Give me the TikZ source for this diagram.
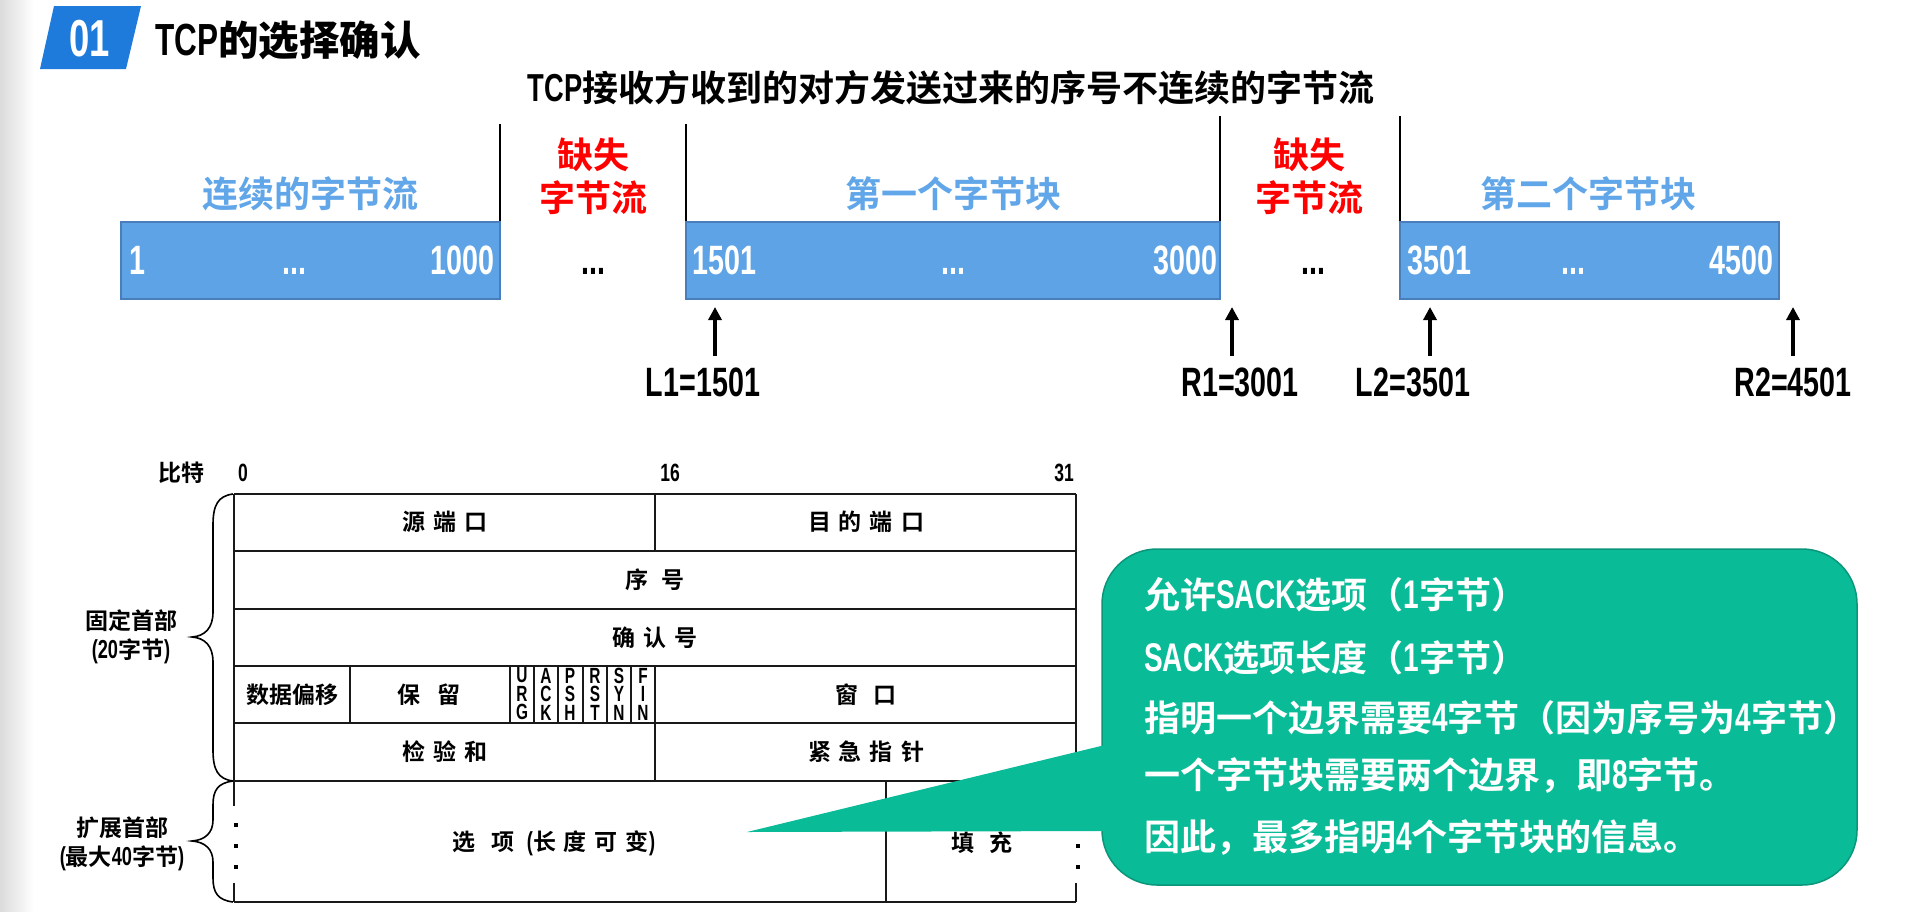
\documentclass[tikz,border=0pt]{standalone}
\usepackage{fontspec}
\usetikzlibrary{arrows.meta}
\newfontfamily\cjk{Noto Sans CJK SC}[UprightFont=* Bold]
\newfontfamily\cjkheavy{Noto Sans CJK SC}[UprightFont=* Black]
\newfontfamily\nar{Liberation Sans}[UprightFont=* Bold, FakeStretch=0.7]
\newcommand\fsz[1]{\fontsize{#1}{#1}\selectfont}
\newcommand\kgap[1]{\hspace{#1pt}}
\definecolor{badgeBlue}{RGB}{31,123,219}
\definecolor{barBlue}{RGB}{93,163,230}
\definecolor{barEdge}{RGB}{74,126,187}
\definecolor{lblBlue}{RGB}{96,166,232}
\definecolor{noteFill}{RGB}{10,187,152}
\definecolor{noteEdge}{RGB}{11,150,122}
\tikzset{
  seqbar/.style={draw=barEdge, fill=barBlue, line width=2pt},
  guide/.style={draw=black, line width=1.6pt},
  num/.style={font=\nar\fsz{41}, text=white, inner sep=0pt},
  blk/.style={font=\cjk\fsz{36}, text=lblBlue, inner sep=0pt},
  lost/.style={font=\cjk\fontsize{36}{43}\selectfont, text=red, align=center, inner sep=0pt},
  ptr/.style={-{Triangle[width=13pt,length=13pt]}, line width=3.5pt},
  ptrlbl/.style={font=\nar\fsz{41}, inner sep=0pt},
  tline/.style={line width=1.8pt, draw=black!90},
  hdrtxt/.style={font=\cjk\fsz{23}, inner sep=0pt},
  bitnum/.style={font=\nar\fsz{25}, inner sep=0pt},
  flagcol/.style={font=\nar\fontsize{22}{18.5}\selectfont, align=center, inner sep=0pt},
  side/.style={font=\cjk\fontsize{23}{29}\selectfont, align=center, inner sep=0pt},
  say/.style={font=\cjk\fsz{36}, text=white, anchor=west, inner sep=0pt},
}
\begin{document}
\begin{tikzpicture}[x=1pt,y=-1pt]
\useasboundingbox (0,0) rectangle (1913,911);
\fill[white] (0,0) rectangle (1913,911);
\shade[left color=black!14, right color=white] (0,0) rectangle (34,911);

% ---- heading ----
\fill[badgeBlue] (54,6) -- (141,6) -- (126,69) -- (40,69) -- cycle;
\node[font=\nar\fsz{52}, text=white, inner sep=0pt, anchor=base] (secnum) at (90,56) {01};
\node[font=\cjkheavy\fsz{40.5}, inner sep=0pt, anchor=west] (title) at (155,40) {{\nar\fsz{45}TCP}的选择确认};
\node[font=\cjk\fsz{36}, inner sep=0pt] (subtitle) at (951,88) {{\nar\fsz{39}TCP}接收方收到的对方发送过来的序号不连续的字节流};

% ---- byte stream ----
\draw[guide] (500,124) -- (500,222);
\draw[guide] (686,124) -- (686,222);
\draw[guide] (1220,116) -- (1220,222);
\draw[guide] (1400,116) -- (1400,222);
\draw[seqbar] (121,222) rectangle (500,299);
\draw[seqbar] (686,222) rectangle (1220,299);
\draw[seqbar] (1400,222) rectangle (1779,299);

\node[blk] (lblA) at (310,194) {连续的字节流};
\node[blk] (lblB) at (953,194) {第一个字节块};
\node[blk] (lblC) at (1588,194) {第二个字节块};
\node[lost] (gapA) at (593,176) {缺失\\字节流};
\node[lost] (gapB) at (1309,176) {缺失\\字节流};

\node[num, anchor=base west] (a1) at (129,274) {1};
\node[num, anchor=base] (a2) at (294,274) {...};
\node[num, anchor=base east] (a3) at (495,274) {1000};
\node[num, anchor=base, text=black] (g1) at (593,274) {...};
\node[num, anchor=base west] (b1) at (692,274) {1501};
\node[num, anchor=base] (b2) at (953,274) {...};
\node[num, anchor=base east] (b3) at (1218,274) {3000};
\node[num, anchor=base, text=black] (g2) at (1313,274) {...};
\node[num, anchor=base west] (c1) at (1407,274) {3501};
\node[num, anchor=base] (c2) at (1573,274) {...};
\node[num, anchor=base east] (c3) at (1774,274) {4500};

\coordinate (l1tip) at (715,307);  \coordinate (l1foot) at (715,356);
\coordinate (r1tip) at (1232,307); \coordinate (r1foot) at (1232,356);
\coordinate (l2tip) at (1430,307); \coordinate (l2foot) at (1430,356);
\coordinate (r2tip) at (1793,307); \coordinate (r2foot) at (1793,356);
\draw[ptr] (l1foot) -- (l1tip);
\draw[ptr] (r1foot) -- (r1tip);
\draw[ptr] (l2foot) -- (l2tip);
\draw[ptr] (r2foot) -- (r2tip);
\node[ptrlbl] (l1) at (703,382) {L1=1501};
\node[ptrlbl] (r1) at (1240,382) {R1=3001};
\node[ptrlbl] (l2) at (1413,382) {L2=3501};
\node[ptrlbl] (r2) at (1793,382) {R2=4501};

% ---- TCP header ----
\node[hdrtxt] (bits) at (181,473) {比特};
\node[bitnum] (b0) at (243,473) {0};
\node[bitnum] (b16) at (670,473) {16};
\node[bitnum] (b31) at (1064,473) {31};

\draw[tline] (234,494) -- (1076,494);
\foreach \yy in {551,609,666,723,781} \draw[tline] (234,\yy) -- (1076,\yy);
\draw[tline] (234,902) -- (1076,902);
\draw[tline] (234,494) -- (234,806) (234,883) -- (234,902);
\draw[tline] (1076,494) -- (1076,806) (1076,883) -- (1076,902);
\foreach \yy in {825,846,867} {
  \fill (234,\yy-2) rectangle ++(4,4);
  \fill (1076,\yy-2) rectangle ++(4,4);
}
\draw[tline] (655,494) -- (655,551);
\draw[tline] (655,666) -- (655,781);
\draw[tline] (350,666) -- (350,723);
\foreach \xx in {510,534,558,583,607,631} \draw[tline, line width=1.3pt] (\xx,666) -- (\xx,723);
\draw[tline] (886,781) -- (886,902);

\node[hdrtxt] (srcport) at (445,522) {源\kgap{8}端\kgap{8}口};
\node[hdrtxt] (dstport) at (866,522) {目\kgap{8}的\kgap{8}端\kgap{8}口};
\node[hdrtxt] (seqno) at (655,580) {序\kgap{14}号};
\node[hdrtxt] (ackno) at (655,638) {确\kgap{8}认\kgap{8}号};
\node[hdrtxt] (offset) at (292,695) {数据偏移};
\node[hdrtxt] (rsvd) at (429,695) {保\kgap{18}留};
\node[flagcol] (fu) at (522,694) {U\\R\\G};
\node[flagcol] (fa) at (546,694) {A\\C\\K};
\node[flagcol] (fp) at (570,694) {P\\S\\H};
\node[flagcol] (fr) at (595,694) {R\\S\\T};
\node[flagcol] (fs) at (619,694) {S\\Y\\N};
\node[flagcol] (ff) at (643,694) {F\\I\\N};
\node[hdrtxt] (wnd) at (866,695) {窗\kgap{16}口};
\node[hdrtxt] (csum) at (445,752) {检\kgap{8}验\kgap{8}和};
\node[hdrtxt] (urg) at (866,752) {紧\kgap{8}急\kgap{8}指\kgap{8}针};
\node[hdrtxt] (opts) at (554,843) {选\kgap{16}项\kgap{12}{\nar\fsz{26}(}长\kgap{8}度\kgap{8}可\kgap{8}变{\nar\fsz{26})}};
\node[hdrtxt] (pad) at (982,843) {填\kgap{16}充};

% braces on the left
\draw[line width=1.6pt] (233,494) .. controls (218,496) and (213,505) .. (213,525) -- (213,612)
  .. controls (213,628) and (205,636) .. (192,637) .. controls (205,638) and (213,646) .. (213,662)
  -- (213,750) .. controls (213,770) and (218,779) .. (233,781);
\draw[line width=1.6pt] (233,781) .. controls (218,783) and (213,790) .. (213,805) -- (213,820)
  .. controls (213,833) and (205,840) .. (192,841) .. controls (205,842) and (213,849) .. (213,862)
  -- (213,878) .. controls (213,893) and (218,900) .. (233,902);
\node[side] (fixed) at (131,637) {固定首部\\{\nar\fsz{26}(20}字节{\nar\fsz{26})}};
\node[side] (ext) at (122,844) {扩展首部\\{\nar\fsz{26}(}最大{\nar\fsz{26}40}字节{\nar\fsz{26})}};

% ---- callout ----
\node[draw=noteEdge, fill=noteFill, line width=1.5pt, rounded corners=55pt,
      minimum width=755pt, minimum height=336pt, inner sep=0pt] (note) at (1479.5,717) {};
\coordinate (noteTip) at (747,832);
\coordinate (noteUp) at (1105,745);
\coordinate (noteLow) at (1105,831);
\fill[noteFill] (noteTip) -- (noteUp) -- (noteLow) -- cycle;
\node[say] (s1) at (1144,595) {允许{\nar\fsz{40}SACK}选项（{\nar\fsz{40}1}字节）};
\node[say] (s2) at (1144,658) {{\nar\fsz{40}SACK}选项长度（{\nar\fsz{40}1}字节）};
\node[say] (s3) at (1144,718) {指明一个边界需要{\nar\fsz{40}4}字节（因为序号为{\nar\fsz{40}4}字节）};
\node[say] (s4) at (1144,776) {一个字节块需要两个边界，即{\nar\fsz{40}8}字节。};
\node[say] (s5) at (1144,837) {因此，最多指明{\nar\fsz{40}4}个字节块的信息。};
\end{tikzpicture}
\end{document}
